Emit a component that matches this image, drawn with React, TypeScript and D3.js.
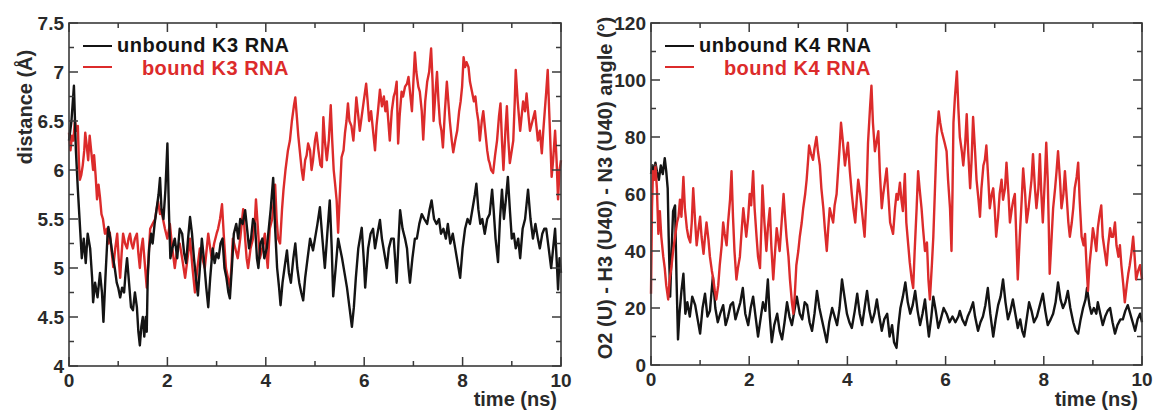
import React from "react";
import * as d3 from "d3";

// ---------- DATA ----------
const xTicks = [0, 2, 4, 6, 8, 10];
const leftYTicks = [4, 4.5, 5, 5.5, 6, 6.5, 7, 7.5];
const rightYTicks = [0, 20, 40, 60, 80, 100, 120];

const legendLeft = ["unbound K3 RNA", "bound K3 RNA"];
const legendRight = ["unbound K4 RNA", "bound K4 RNA"];

// left panel: distance (Å) vs time (ns)
const k3Unbound: [number, number][] = [
[0,6.3],[0.05,6.5],[0.1,6.86],[0.14,6.2],[0.18,5.8],[0.22,5.45],[0.26,5.1],[0.3,5.3],[0.34,5.05],[0.38,5.35],[0.43,5.2],[0.47,4.9],[0.49,4.65],[0.53,4.85],[0.58,4.7],[0.63,4.95],[0.67,4.75],[0.7,4.45],[0.74,4.9],[0.78,5.3],[0.8,5.42],[0.84,5.3],[0.88,5.15],[0.93,5.0],[0.97,4.85],[1.0,4.8],[1.04,4.7],[1.08,4.8],[1.12,4.75],[1.15,4.95],[1.18,5.1],[1.22,4.85],[1.26,4.6],[1.3,4.57],[1.34,4.75],[1.38,4.6],[1.41,4.35],[1.44,4.21],[1.47,4.4],[1.5,4.5],[1.53,4.3],[1.56,4.5],[1.58,4.35],[1.6,4.9],[1.63,5.2],[1.67,5.35],[1.7,5.25],[1.74,5.45],[1.78,5.6],[1.82,5.75],[1.85,5.92],[1.88,5.6],[1.92,5.5],[1.96,5.8],[2.0,6.27],[2.03,5.6],[2.06,5.1],[2.1,5.2],[2.15,5.3],[2.2,5.1],[2.25,5.4],[2.3,5.35],[2.34,5.15],[2.38,5.05],[2.42,5.3],[2.46,5.52],[2.5,5.35],[2.54,5.1],[2.58,4.9],[2.62,4.72],[2.66,5.0],[2.7,5.3],[2.74,5.1],[2.79,4.8],[2.83,4.6],[2.87,4.9],[2.92,5.2],[2.96,5.05],[3.0,5.15],[3.04,5.1],[3.08,5.25],[3.12,5.3],[3.16,5.0],[3.2,4.9],[3.24,4.75],[3.27,4.69],[3.31,5.0],[3.35,5.35],[3.4,5.45],[3.44,5.3],[3.48,5.5],[3.53,5.45],[3.58,5.59],[3.62,5.4],[3.66,5.2],[3.7,5.3],[3.74,5.5],[3.78,5.45],[3.82,5.1],[3.85,5.0],[3.89,5.25],[3.93,5.3],[3.97,5.1],[4.02,5.2],[4.06,5.4],[4.1,5.6],[4.15,5.92],[4.19,5.4],[4.23,5.0],[4.27,4.8],[4.3,4.62],[4.34,4.85],[4.38,5.0],[4.43,5.18],[4.47,4.95],[4.51,4.85],[4.56,5.1],[4.6,5.25],[4.64,5.0],[4.68,4.85],[4.72,4.75],[4.76,4.67],[4.8,4.9],[4.85,5.1],[4.9,5.3],[4.96,5.18],[5.0,5.3],[5.05,5.45],[5.1,5.62],[5.15,5.3],[5.2,5.0],[5.25,5.35],[5.3,5.69],[5.34,5.2],[5.37,4.71],[5.42,5.0],[5.47,5.3],[5.51,5.2],[5.55,5.1],[5.6,4.95],[5.65,4.8],[5.7,4.6],[5.75,4.4],[5.79,4.6],[5.83,4.9],[5.88,5.2],[5.95,5.41],[5.99,5.1],[6.02,4.8],[6.05,5.0],[6.08,5.2],[6.13,5.35],[6.18,5.4],[6.22,5.2],[6.27,5.35],[6.32,5.49],[6.36,5.3],[6.41,5.15],[6.46,5.0],[6.5,5.2],[6.55,5.3],[6.6,5.3],[6.66,4.85],[6.7,5.3],[6.73,5.59],[6.78,5.4],[6.83,5.3],[6.87,5.2],[6.9,5.0],[6.93,4.85],[6.98,5.1],[7.03,5.3],[7.07,5.3],[7.12,5.45],[7.17,5.55],[7.22,5.5],[7.28,5.45],[7.33,5.6],[7.37,5.69],[7.42,5.5],[7.47,5.45],[7.52,5.5],[7.56,5.35],[7.61,5.4],[7.66,5.3],[7.7,5.45],[7.75,5.25],[7.8,5.35],[7.85,5.2],[7.9,5.05],[7.95,4.9],[8.0,5.2],[8.05,5.4],[8.1,5.5],[8.15,5.45],[8.2,5.6],[8.25,5.75],[8.28,5.86],[8.32,5.6],[8.36,5.45],[8.4,5.5],[8.45,5.35],[8.5,5.5],[8.55,5.55],[8.6,5.8],[8.63,5.6],[8.67,5.3],[8.72,5.06],[8.76,5.5],[8.8,5.8],[8.84,5.5],[8.88,5.7],[8.92,5.93],[8.96,5.6],[9.0,5.3],[9.04,5.35],[9.08,5.2],[9.13,5.3],[9.17,5.1],[9.22,5.4],[9.27,5.5],[9.33,5.8],[9.38,5.5],[9.43,5.3],[9.48,5.45],[9.53,5.3],[9.57,5.2],[9.62,5.35],[9.66,5.4],[9.7,5.4],[9.75,5.2],[9.8,5.0],[9.84,5.2],[9.88,5.4],[9.92,5.0],[9.94,4.78],[9.97,5.1],[10,4.95]
];

const k3Bound: [number, number][] = [
[0,6.38],[0.03,6.2],[0.06,6.35],[0.09,6.3],[0.12,6.51],[0.15,6.4],[0.18,6.45],[0.2,6.1],[0.22,5.9],[0.25,5.95],[0.28,6.05],[0.31,6.2],[0.33,6.38],[0.36,6.25],[0.39,6.1],[0.42,6.35],[0.45,6.2],[0.49,6.0],[0.51,6.15],[0.54,5.95],[0.57,5.7],[0.6,5.85],[0.63,5.72],[0.66,5.55],[0.69,5.5],[0.73,5.35],[0.77,5.4],[0.8,5.25],[0.83,5.36],[0.87,5.15],[0.9,5.01],[0.94,5.2],[0.98,5.35],[1.01,5.1],[1.04,4.9],[1.07,5.15],[1.1,5.35],[1.14,5.25],[1.18,5.2],[1.21,5.3],[1.24,5.35],[1.27,5.25],[1.3,5.2],[1.34,5.3],[1.38,5.35],[1.41,5.15],[1.44,5.0],[1.47,5.2],[1.5,5.3],[1.54,5.05],[1.58,4.8],[1.61,5.05],[1.65,5.4],[1.7,5.45],[1.75,5.5],[1.78,5.6],[1.81,5.68],[1.85,5.55],[1.88,5.6],[1.91,5.5],[1.95,5.4],[2.0,5.3],[2.05,5.45],[2.1,5.2],[2.15,5.0],[2.2,5.2],[2.25,5.25],[2.3,5.1],[2.36,4.9],[2.41,5.1],[2.46,5.3],[2.51,5.0],[2.56,4.75],[2.61,5.0],[2.66,5.2],[2.71,5.1],[2.76,5.0],[2.8,5.2],[2.83,5.35],[2.87,5.2],[2.9,5.1],[2.95,5.25],[3.0,5.35],[3.03,5.4],[3.07,5.5],[3.11,5.65],[3.15,5.3],[3.19,5.0],[3.23,4.9],[3.27,4.8],[3.3,5.0],[3.33,5.3],[3.38,5.2],[3.43,5.1],[3.48,5.3],[3.54,5.6],[3.58,5.3],[3.61,5.1],[3.64,5.0],[3.69,5.2],[3.74,5.3],[3.78,5.5],[3.8,5.7],[3.84,5.4],[3.88,5.1],[3.93,5.2],[3.98,5.35],[4.01,5.15],[4.04,5.0],[4.08,5.4],[4.13,5.5],[4.19,5.85],[4.22,5.5],[4.25,5.3],[4.29,5.25],[4.33,5.6],[4.36,5.8],[4.4,6.0],[4.45,6.2],[4.49,6.3],[4.53,6.5],[4.57,6.65],[4.6,6.74],[4.63,6.55],[4.66,6.35],[4.69,6.2],[4.73,6.0],[4.76,5.9],[4.8,6.1],[4.83,6.15],[4.86,6.27],[4.9,6.2],[4.93,6.0],[4.96,6.1],[5.0,6.3],[5.03,6.38],[5.07,6.2],[5.11,6.05],[5.14,6.03],[5.17,6.54],[5.2,6.3],[5.24,6.1],[5.28,6.3],[5.32,6.66],[5.35,6.3],[5.38,6.0],[5.41,5.85],[5.44,5.69],[5.47,5.36],[5.5,5.7],[5.54,6.13],[5.58,6.2],[5.61,6.38],[5.64,6.5],[5.67,6.68],[5.7,6.5],[5.74,6.45],[5.78,6.3],[5.81,6.5],[5.84,6.74],[5.88,6.55],[5.91,6.4],[5.95,6.55],[5.99,6.7],[6.04,6.88],[6.07,6.7],[6.1,6.5],[6.14,6.6],[6.18,6.4],[6.22,6.2],[6.25,6.45],[6.28,6.6],[6.32,6.82],[6.36,6.65],[6.4,6.75],[6.43,6.6],[6.46,6.7],[6.49,6.5],[6.52,6.3],[6.56,6.6],[6.6,6.75],[6.63,6.8],[6.66,6.9],[6.69,6.27],[6.72,6.55],[6.76,6.8],[6.79,6.75],[6.83,6.85],[6.87,6.88],[6.9,6.95],[6.94,6.75],[6.97,6.6],[7.0,6.9],[7.03,7.2],[7.06,7.0],[7.1,6.85],[7.13,6.8],[7.17,6.6],[7.2,6.31],[7.24,6.7],[7.28,6.9],[7.32,7.0],[7.36,7.24],[7.39,6.9],[7.41,6.5],[7.45,6.8],[7.48,7.0],[7.51,6.7],[7.54,6.48],[7.57,6.4],[7.6,6.23],[7.64,6.6],[7.68,6.9],[7.71,6.7],[7.74,6.5],[7.78,6.3],[7.81,6.18],[7.85,6.3],[7.89,6.4],[7.93,6.6],[7.96,6.7],[7.99,6.85],[8.02,7.15],[8.05,7.05],[8.08,7.1],[8.12,7.05],[8.15,6.9],[8.19,6.8],[8.23,6.7],[8.26,6.75],[8.29,6.6],[8.32,6.5],[8.35,6.3],[8.39,6.5],[8.42,6.6],[8.46,6.4],[8.5,6.2],[8.53,6.1],[8.55,6.07],[8.58,6.0],[8.62,5.97],[8.66,6.15],[8.7,6.3],[8.74,6.55],[8.77,6.68],[8.8,6.3],[8.83,6.0],[8.87,6.4],[8.9,6.65],[8.93,6.3],[8.96,6.07],[9.0,6.2],[9.03,6.3],[9.06,6.7],[9.08,7.02],[9.12,6.7],[9.17,6.4],[9.2,6.55],[9.23,6.7],[9.27,6.6],[9.3,6.78],[9.34,6.55],[9.37,6.4],[9.42,6.5],[9.47,6.6],[9.5,6.45],[9.53,6.3],[9.57,6.4],[9.61,6.17],[9.64,6.4],[9.67,6.6],[9.7,6.8],[9.73,7.02],[9.76,6.6],[9.79,6.2],[9.81,5.93],[9.84,6.1],[9.88,6.4],[9.91,6.1],[9.94,5.7],[9.97,6.0],[10,6.1]
];

// right panel: angle (°) vs time (ns)
const k4Unbound: [number, number][] = [
[0,67],[0.03,70],[0.06,66],[0.09,71],[0.12,68],[0.16,65],[0.2,70],[0.24,67],[0.28,72.6],[0.31,68],[0.34,62],[0.36,45],[0.39,24],[0.42,40],[0.45,54],[0.49,56],[0.52,30],[0.55,9],[0.58,18],[0.62,26],[0.66,32],[0.7,18],[0.74,22],[0.79,17],[0.84,24],[0.9,21],[0.95,16],[1.0,11],[1.05,20],[1.1,25],[1.15,17],[1.2,19],[1.26,31],[1.31,20],[1.36,15],[1.41,18],[1.47,21],[1.52,14],[1.57,17],[1.62,21],[1.67,22],[1.72,16],[1.77,19],[1.82,22],[1.87,27],[1.92,18],[1.98,14],[2.03,20],[2.08,24],[2.13,17],[2.18,10],[2.23,16],[2.28,22],[2.33,19],[2.38,30],[2.42,17],[2.46,8],[2.51,14],[2.57,18],[2.62,12],[2.67,9],[2.72,15],[2.77,22],[2.82,17],[2.87,14],[2.92,19],[2.97,24],[3.03,18],[3.08,16],[3.13,22],[3.18,21],[3.23,15],[3.28,12],[3.33,18],[3.38,26],[3.43,20],[3.48,16],[3.53,12],[3.58,8],[3.63,15],[3.69,20],[3.74,17],[3.79,14],[3.84,20],[3.89,30],[3.94,24],[3.99,18],[4.04,15],[4.09,13],[4.15,19],[4.2,25],[4.25,18],[4.3,14],[4.35,20],[4.4,26],[4.45,19],[4.5,15],[4.55,18],[4.6,23],[4.65,17],[4.7,12],[4.75,16],[4.81,18],[4.86,10],[4.91,14],[4.95,8],[5.0,6],[5.04,14],[5.08,20],[5.13,24],[5.18,29],[5.23,22],[5.28,18],[5.33,21],[5.38,26],[5.43,19],[5.48,14],[5.53,18],[5.58,23],[5.62,16],[5.66,10],[5.71,17],[5.75,24],[5.8,19],[5.85,13],[5.9,16],[5.96,20],[6.02,18],[6.08,15],[6.14,17],[6.2,15],[6.26,17],[6.29,19],[6.34,16],[6.4,14],[6.45,17],[6.5,19],[6.56,22],[6.6,17],[6.66,12],[6.71,15],[6.76,17],[6.81,21],[6.86,27],[6.91,18],[6.97,10],[7.02,16],[7.07,21],[7.12,24],[7.17,30],[7.22,22],[7.27,16],[7.32,19],[7.37,23],[7.42,18],[7.47,13],[7.52,16],[7.56,12],[7.6,10],[7.65,16],[7.7,22],[7.75,19],[7.8,15],[7.86,17],[7.92,21],[7.98,25],[8.03,19],[8.08,14],[8.14,16],[8.19,18],[8.24,22],[8.29,29],[8.34,23],[8.39,20],[8.44,22],[8.49,26],[8.54,20],[8.6,15],[8.65,12],[8.7,11],[8.75,16],[8.8,20],[8.85,23],[8.88,27],[8.93,21],[8.97,18],[9.02,20],[9.07,18],[9.1,22],[9.15,18],[9.2,14],[9.25,17],[9.3,19],[9.35,20],[9.4,15],[9.45,11],[9.5,14],[9.56,16],[9.61,16],[9.66,19],[9.71,21],[9.76,18],[9.81,15],[9.86,12],[9.91,16],[9.96,18],[10,15]
];

const k4Bound: [number, number][] = [
[0,25],[0.02,55],[0.04,68],[0.07,65],[0.09,70],[0.12,62],[0.15,46],[0.18,54],[0.21,45],[0.25,38],[0.28,34],[0.31,28],[0.35,23],[0.38,30],[0.42,35],[0.45,40],[0.49,45],[0.53,50],[0.56,52],[0.59,58],[0.62,52],[0.66,66],[0.69,55],[0.73,48],[0.76,45],[0.8,43],[0.83,50],[0.86,62],[0.9,50],[0.93,42],[0.97,48],[1.0,52],[1.03,45],[1.07,39],[1.1,45],[1.13,50],[1.17,44],[1.2,38],[1.24,33],[1.27,30],[1.3,26],[1.33,23],[1.37,28],[1.4,35],[1.44,42],[1.47,50],[1.5,46],[1.54,42],[1.57,50],[1.61,58],[1.64,68],[1.67,52],[1.7,40],[1.74,30],[1.77,34],[1.81,38],[1.85,48],[1.88,55],[1.91,50],[1.94,45],[1.98,52],[2.01,60],[2.04,56],[2.08,68],[2.11,55],[2.15,45],[2.18,38],[2.22,34],[2.25,50],[2.27,63],[2.31,50],[2.35,40],[2.38,48],[2.42,55],[2.45,42],[2.49,30],[2.52,38],[2.56,48],[2.59,44],[2.62,40],[2.66,50],[2.7,60],[2.73,52],[2.76,45],[2.8,38],[2.83,30],[2.87,22],[2.9,18],[2.93,25],[2.96,35],[3.0,40],[3.03,45],[3.07,50],[3.1,55],[3.14,60],[3.17,65],[3.2,72],[3.22,77],[3.26,74],[3.3,72],[3.33,76],[3.37,80],[3.4,75],[3.44,70],[3.47,62],[3.51,55],[3.54,48],[3.58,40],[3.61,48],[3.64,55],[3.68,52],[3.71,50],[3.74,56],[3.78,60],[3.81,68],[3.84,76],[3.87,85],[3.91,78],[3.95,70],[3.98,74],[4.01,78],[4.05,68],[4.09,60],[4.12,55],[4.16,50],[4.19,58],[4.22,65],[4.26,60],[4.29,55],[4.32,50],[4.35,45],[4.39,60],[4.42,78],[4.46,90],[4.49,98],[4.52,85],[4.56,75],[4.59,78],[4.63,82],[4.66,68],[4.7,55],[4.73,60],[4.77,65],[4.8,69],[4.84,58],[4.87,50],[4.9,48],[4.93,46],[4.97,55],[5.0,60],[5.03,58],[5.07,64],[5.1,58],[5.13,54],[5.17,67],[5.2,50],[5.24,42],[5.27,36],[5.31,30],[5.34,27],[5.37,40],[5.41,55],[5.44,68],[5.47,62],[5.51,55],[5.54,48],[5.58,40],[5.62,43],[5.65,30],[5.68,23],[5.72,35],[5.75,45],[5.78,60],[5.82,80],[5.86,89],[5.89,85],[5.92,82],[5.95,80],[5.98,78],[6.02,75],[6.05,65],[6.09,55],[6.12,40],[6.14,60],[6.16,85],[6.19,94],[6.23,103],[6.26,90],[6.29,80],[6.33,75],[6.36,70],[6.4,78],[6.43,88],[6.46,75],[6.5,62],[6.53,72],[6.56,87],[6.6,75],[6.63,65],[6.67,58],[6.7,52],[6.73,62],[6.77,70],[6.8,72],[6.83,77],[6.87,65],[6.9,55],[6.94,60],[6.97,62],[7.0,55],[7.03,45],[7.07,52],[7.1,60],[7.14,65],[7.17,58],[7.21,62],[7.24,71],[7.28,60],[7.31,50],[7.35,55],[7.38,58],[7.41,60],[7.44,45],[7.47,30],[7.51,45],[7.55,58],[7.58,69],[7.62,60],[7.65,50],[7.69,55],[7.72,60],[7.75,65],[7.78,74],[7.82,62],[7.85,55],[7.89,62],[7.92,74],[7.95,60],[7.98,50],[8.02,65],[8.05,78],[8.08,65],[8.1,50],[8.12,32],[8.16,45],[8.19,55],[8.23,62],[8.26,68],[8.29,75],[8.33,65],[8.36,55],[8.4,60],[8.43,68],[8.47,58],[8.5,50],[8.53,45],[8.57,50],[8.6,55],[8.63,62],[8.67,66],[8.7,71],[8.73,58],[8.77,45],[8.81,42],[8.84,46],[8.87,35],[8.9,26],[8.93,35],[8.97,42],[9.0,48],[9.03,45],[9.07,40],[9.1,48],[9.13,52],[9.17,56],[9.2,45],[9.24,40],[9.28,35],[9.31,42],[9.35,48],[9.38,45],[9.41,45],[9.45,50],[9.48,42],[9.52,38],[9.55,42],[9.58,35],[9.62,28],[9.65,22],[9.69,28],[9.72,32],[9.75,35],[9.79,40],[9.82,45],[9.85,38],[9.88,30],[9.92,33],[9.96,35],[10,30]
];

// ---------- STYLE ----------
const RED = "#dc2b2b";
const BLACK = "#141414";
const AXIS = "#3a3a3a";
const FONT = "'Liberation Sans', Arial, Helvetica, sans-serif";

type PanelProps = {
  x0: number; x1: number; yTop: number; yBot: number;
  yDomain: [number, number];
  yTicks: number[];
  yMinorStep: number;
  unbound: [number, number][];
  bound: [number, number][];
  legend: string[];
  yLabel: string;
  yLabelX: number;
  yLabelY: number;
  redOnTop: boolean;
};

function Panel(p: PanelProps) {
  const x = d3.scaleLinear().domain([0, 10]).range([p.x0, p.x1]);
  const y = d3.scaleLinear().domain(p.yDomain).range([p.yBot, p.yTop]);
  const line = d3.line<[number, number]>().x(d => x(d[0])).y(d => y(d[1])).curve(d3.curveLinear);
  const xMinor = d3.range(1, 10, 2);
  const yMinor = d3.range(p.yDomain[0] + p.yMinorStep, p.yDomain[1], p.yMinorStep * 2);
  const MAJ = 9, MIN = 5;
  const redPath = <path d={line(p.bound) || ""} fill="none" stroke={RED} strokeWidth={2.4} strokeLinejoin="round" />;
  const blackPath = <path d={line(p.unbound) || ""} fill="none" stroke={BLACK} strokeWidth={2.4} strokeLinejoin="round" />;
  const lx = p.x0 + 14;
  return (
    <g>
      {p.redOnTop ? <>{blackPath}{redPath}</> : <>{redPath}{blackPath}</>}
      <rect x={p.x0} y={p.yTop} width={p.x1 - p.x0} height={p.yBot - p.yTop} fill="none" stroke={AXIS} strokeWidth={1.6} />
      {xTicks.map(t => (
        <g key={"xt" + t}>
          <line x1={x(t)} x2={x(t)} y1={p.yBot} y2={p.yBot - MAJ} stroke={AXIS} strokeWidth={1.5} />
          <line x1={x(t)} x2={x(t)} y1={p.yTop} y2={p.yTop + MAJ} stroke={AXIS} strokeWidth={1.5} />
          <text x={x(t)} y={p.yBot + 21} textAnchor="middle" fontFamily={FONT} fontWeight="bold" fontSize={19} fill="#2a2a2a">{t}</text>
        </g>
      ))}
      {xMinor.map(t => (
        <g key={"xm" + t}>
          <line x1={x(t)} x2={x(t)} y1={p.yBot} y2={p.yBot - MIN} stroke={AXIS} strokeWidth={1.5} />
          <line x1={x(t)} x2={x(t)} y1={p.yTop} y2={p.yTop + MIN} stroke={AXIS} strokeWidth={1.5} />
        </g>
      ))}
      {p.yTicks.map(v => (
        <g key={"yt" + v}>
          <line x1={p.x0} x2={p.x0 + MAJ} y1={y(v)} y2={y(v)} stroke={AXIS} strokeWidth={1.5} />
          <line x1={p.x1} x2={p.x1 - MAJ} y1={y(v)} y2={y(v)} stroke={AXIS} strokeWidth={1.5} />
          <text x={p.x0 - 5} y={y(v) + 7} textAnchor="end" fontFamily={FONT} fontWeight="bold" fontSize={19} fill="#2a2a2a">{v}</text>
        </g>
      ))}
      {yMinor.map(v => (
        <g key={"ym" + v}>
          <line x1={p.x0} x2={p.x0 + MIN} y1={y(v)} y2={y(v)} stroke={AXIS} strokeWidth={1.5} />
          <line x1={p.x1} x2={p.x1 - MIN} y1={y(v)} y2={y(v)} stroke={AXIS} strokeWidth={1.5} />
        </g>
      ))}
      <text x={p.x1 - 4} y={406} textAnchor="end" fontFamily={FONT} fontWeight="bold" fontSize={20} fill="#2a2a2a">time (ns)</text>
      <text transform={`translate(${p.yLabelX},${p.yLabelY}) rotate(-90)`} textAnchor="middle" fontFamily={FONT} fontWeight="bold" fontSize={20} fill="#2a2a2a">{p.yLabel}</text>
      {/* legend */}
      <line x1={lx} x2={lx + 29} y1={p.yTop + 23} y2={p.yTop + 23} stroke={BLACK} strokeWidth={2} />
      <text x={lx + 34} y={p.yTop + 29} fontFamily={FONT} fontWeight="bold" fontSize={20} letterSpacing={0.5} fill={BLACK}>{p.legend[0]}</text>
      <line x1={lx} x2={lx + 29} y1={p.yTop + 44} y2={p.yTop + 44} stroke={RED} strokeWidth={2} />
      <text x={lx + 206} y={p.yTop + 52} textAnchor="end" fontFamily={FONT} fontWeight="bold" fontSize={20} letterSpacing={0.5} fill={RED}>{p.legend[1]}</text>
    </g>
  );
}

export default function App() {
  return (
    <svg width={1156} height={413} style={{ position: "absolute", left: 0, top: 0, background: "#fff" }}>
      <rect x={0} y={0} width={1156} height={413} fill="#fff" />
      <Panel x0={69} x1={561} yTop={23} yBot={366} yDomain={[4, 7.5]} yTicks={leftYTicks} yMinorStep={0.25}
        unbound={k3Unbound} bound={k3Bound} legend={legendLeft} yLabel="distance (Å)" yLabelX={32} yLabelY={107} redOnTop={false} />
      <Panel x0={651} x1={1142} yTop={23} yBot={365} yDomain={[0, 120]} yTicks={rightYTicks} yMinorStep={10}
        unbound={k4Unbound} bound={k4Bound} legend={legendRight} yLabel="O2 (U) - H3 (U40) - N3 (U40) angle (°)" yLabelX={612} yLabelY={188} redOnTop={true} />
    </svg>
  );
}
